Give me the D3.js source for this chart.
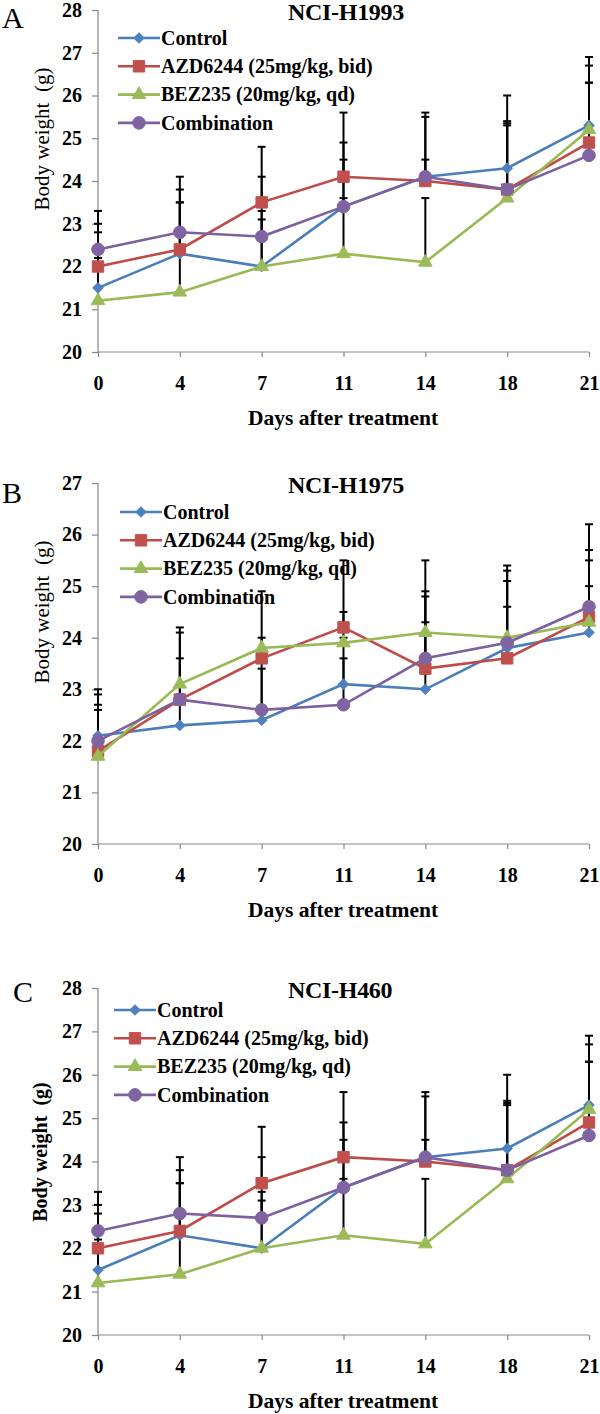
<!DOCTYPE html>
<html lang="en">
<head>
  <meta charset="UTF-8" />
  <title>Body weight panels</title>
  <style>
    body { margin: 0; background: #fff; }
    svg { display: block; }
    text { font-family: "Liberation Serif", "Times New Roman", serif; }
  </style>
  <script src="https://cdn.jsdelivr.net/npm/d3@7"></script>
</head>
<body>
<script>
// days on the x axis (categories)
const days = ["0", "4", "7", "11", "14", "18", "21"];
const seriesNames = ["Control", "AZD6244 (25mg/kg, bid)", "BEZ235 (20mg/kg, qd)", "Combination"];

// NCI-H1993 means and upper SD
const h1993Control = [21.5, 22.3, 22.0, 23.4, 24.1, 24.3, 25.3];
const h1993Azd     = [22.0, 22.4, 23.5, 24.1, 24.0, 23.8, 24.9];
const h1993Bez     = [21.2, 21.4, 22.0, 22.3, 22.1, 23.6, 25.2];
const h1993Combo   = [22.4, 22.8, 22.7, 23.4, 24.1, 23.8, 24.6];
const h1993ControlSd = [0.7, 1.5, 1.3, 1.5, 1.5, 1.7, 1.6];
const h1993AzdSd     = [1.0, 1.1, 1.3, 1.5, 0.5, 1.6, 1.4];
const h1993BezSd     = [1.6, 2.1, 1.1, 1.3, 1.5, 1.75, 1.5];
const h1993ComboSd   = [0.9, 1.3, 1.4, 1.1, 1.4, 1.5, 1.7];

// NCI-H1975
const h1975Control = [22.1, 22.3, 22.4, 23.1, 23.0, 23.8, 24.1];
const h1975Azd     = [21.8, 22.8, 23.6, 24.2, 23.4, 23.6, 24.4];
const h1975Bez     = [21.7, 23.1, 23.8, 23.9, 24.1, 24.0, 24.3];
const h1975Combo   = [22.0, 22.8, 22.6, 22.7, 23.6, 23.9, 24.6];
const h1975ControlSd = [0.9, 0.6, 1.0, 0.9, 1.3, 1.3, 0.9];
const h1975AzdSd     = [0.9, 1.3, 1.3, 1.3, 1.4, 1.0, 1.3];
const h1975BezSd     = [0.9, 1.1, 0.2, 0.6, 1.4, 1.4, 1.2];
const h1975ComboSd   = [0.9, 0.8, 1.0, 0.9, 1.3, 1.4, 1.6];

// NCI-H460
const h460Control = [21.5, 22.3, 22.0, 23.4, 24.1, 24.3, 25.3];
const h460Azd     = [22.0, 22.4, 23.5, 24.1, 24.0, 23.8, 24.9];
const h460Bez     = [21.2, 21.4, 22.0, 22.3, 22.1, 23.6, 25.2];
const h460Combo   = [22.4, 22.8, 22.7, 23.4, 24.1, 23.8, 24.6];
const h460ControlSd = [0.7, 1.5, 1.3, 1.5, 1.5, 1.7, 1.6];
const h460AzdSd     = [1.0, 1.1, 1.3, 1.5, 0.5, 1.6, 1.4];
const h460BezSd     = [1.6, 2.1, 1.1, 1.3, 1.5, 1.75, 1.5];
const h460ComboSd   = [0.9, 1.3, 1.4, 1.1, 1.4, 1.5, 1.7];

const lineColors = ["#4A7EBB", "#BE4B48", "#98B954", "#7D60A0"];
const markColors = ["#4F81BD", "#C0504D", "#9BBB59", "#8064A2"];
const symbols = [
  d3.symbol().type(d3.symbolSquare).size(52),
  d3.symbol().type(d3.symbolSquare).size(130),
  d3.symbol().type(d3.symbolTriangle).size(80),
  d3.symbol().type(d3.symbolCircle).size(125)
];
const symRot = [45, 0, 0, 0];

const svg = d3.select("body").append("svg")
  .attr("width", 600).attr("height", 1414);

const x = d3.scalePoint().domain(days).range([98, 589]);

function panel(p) {
  const y = d3.scaleLinear().domain([20, p.ymax]).range([p.bottom, p.top]);
  const g = svg.append("g");
  const series = p.means.map((m, i) => m.map((v, j) => ({ day: days[j], v, sd: p.sds[i][j] })));

  // axes
  const ya = g.append("g").attr("transform", "translate(98,0)")
    .call(d3.axisLeft(y).tickValues(d3.range(20, p.ymax + 1)).tickSize(6).tickPadding(10).tickFormat(d3.format("d")));
  const xa = g.append("g").attr("transform", `translate(0,${p.bottom})`)
    .call(d3.axisBottom(x).tickSize(5).tickPadding(0));
  [ya, xa].forEach(a => {
    a.select(".domain").attr("stroke", "#878787").attr("stroke-width", 1.2);
    a.selectAll(".tick line").attr("stroke", "#878787").attr("stroke-width", 1.2);
    a.selectAll("text").attr("fill", "#000").style("font-family", "Liberation Serif")
      .style("font-size", "20px").style("font-weight", "bold");
  });
  xa.select(".domain").attr("d", `M98,0H589`);
  ya.select(".domain").attr("d", `M0,${p.top}V${p.bottom}`);
  xa.selectAll("text").attr("y", 38).attr("dy", 0);

  // error bars (upper only)
  series.forEach(s => {
    const eb = g.append("g").attr("stroke", "#000").attr("stroke-width", 2);
    eb.selectAll("line.v").data(s).join("line")
      .attr("x1", d => x(d.day)).attr("x2", d => x(d.day))
      .attr("y1", d => y(d.v)).attr("y2", d => y(d.v + d.sd));
    eb.selectAll("line.c").data(s).join("line")
      .attr("x1", d => x(d.day) - 4).attr("x2", d => x(d.day) + 4)
      .attr("y1", d => y(d.v + d.sd)).attr("y2", d => y(d.v + d.sd));
  });

  // lines and markers
  const line = d3.line().x(d => x(d.day)).y(d => y(d.v));
  series.forEach((s, i) => {
    g.append("path").datum(s).attr("d", line).attr("fill", "none")
      .attr("stroke", lineColors[i]).attr("stroke-width", 2.6);
    g.selectAll(null).data(s).join("path")
      .attr("d", symbols[i])
      .attr("transform", d => `translate(${x(d.day)},${y(d.v)}) rotate(${symRot[i]})`)
      .attr("fill", markColors[i]).attr("stroke", markColors[i]).attr("stroke-width", 1);
  });

  // legend
  const lg = g.append("g");
  seriesNames.forEach((name, i) => {
    const ly = p.legY + i * 28.3;
    lg.append("line").attr("x1", p.legX).attr("x2", p.legX + 42).attr("y1", ly).attr("y2", ly)
      .attr("stroke", lineColors[i]).attr("stroke-width", 2.6);
    lg.append("path").attr("d", symbols[i])
      .attr("transform", `translate(${p.legX + 21},${ly}) rotate(${symRot[i]})`)
      .attr("fill", markColors[i]).attr("stroke", markColors[i]);
    lg.append("text").attr("x", p.legX + 43).attr("y", ly).attr("dy", "0.34em")
      .style("font-size", "20px").style("font-weight", "bold").text(name);
  });

  // title, letter, axis titles
  g.append("text").attr("x", 288).attr("y", p.top + 10)
    .style("font-size", "24px").style("font-weight", "bold").style("letter-spacing", "-0.3px").text(p.title);
  g.append("text").attr("x", p.letX).attr("y", p.letY)
    .style("font-size", "30px").text(p.letter);
  g.append("text").attr("x", 343).attr("y", p.bottom + 73).attr("text-anchor", "middle")
    .style("font-size", "21.5px").style("font-weight", "bold").text("Days after treatment");
  g.append("text").attr("transform", `translate(${p.ylX},${p.ylY}) rotate(-90)`)
    .attr("text-anchor", "middle").attr("dy", "0.35em")
    .style("font-size", p.ylBold ? "20px" : "21px").style("font-weight", p.ylBold ? "bold" : "normal")
    .style("white-space", "pre").text("Body weight  (g)");
}

panel({
  title: "NCI-H1993", letter: "A", ymax: 28, top: 10, bottom: 352,
  means: [h1993Control, h1993Azd, h1993Bez, h1993Combo],
  sds: [h1993ControlSd, h1993AzdSd, h1993BezSd, h1993ComboSd],
  legX: 118, legY: 38, letX: 2, letY: 28, ylX: 42, ylY: 139, ylBold: false
});
panel({
  title: "NCI-H1975", letter: "B", ymax: 27, top: 483, bottom: 844,
  means: [h1975Control, h1975Azd, h1975Bez, h1975Combo],
  sds: [h1975ControlSd, h1975AzdSd, h1975BezSd, h1975ComboSd],
  legX: 120, legY: 512, letX: 2, letY: 503, ylX: 42, ylY: 612, ylBold: false
});
panel({
  title: "NCI-H460", letter: "C", ymax: 28, top: 988, bottom: 1335,
  means: [h460Control, h460Azd, h460Bez, h460Combo],
  sds: [h460ControlSd, h460AzdSd, h460BezSd, h460ComboSd],
  legX: 114, legY: 1010, letX: 13, letY: 1002, ylX: 40, ylY: 1152, ylBold: true
});
</script>
</body>
</html>
